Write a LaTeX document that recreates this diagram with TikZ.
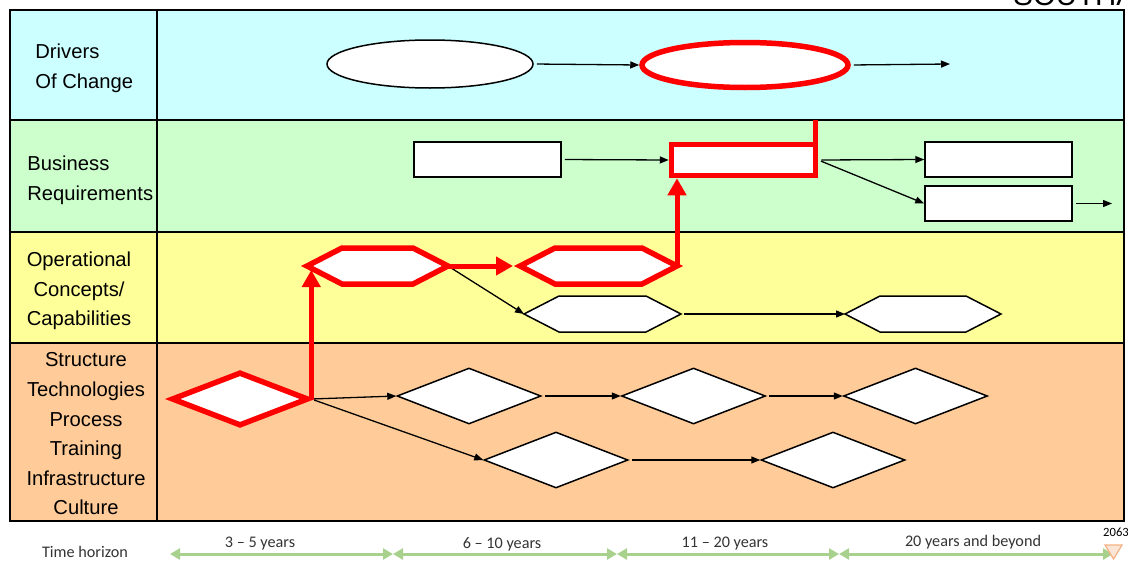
\documentclass[tikz,border=0pt]{standalone}
\usepackage{fontspec}
\setmainfont{Liberation Sans}
\newfontfamily\axisfont{Carlito}
\usetikzlibrary{positioning, arrows.meta, shapes.geometric, calc}

\definecolor{laneDrivers}{HTML}{CCFFFF}
\definecolor{laneBusiness}{HTML}{CCFFCC}
\definecolor{laneOps}{HTML}{FFFF99}
\definecolor{laneDomains}{HTML}{FFCC99}
\definecolor{spanGreen}{HTML}{A9D18E}
\definecolor{markFill}{HTML}{FBE5D6}
\definecolor{markLine}{HTML}{F4B183}

\begin{document}
\begin{tikzpicture}[
    x=0.5pt, y=-0.5pt,
    >={Triangle[length=4.5pt, width=3.5pt]},
    lane/.style={font=\fontsize{10.1}{14.8}\selectfont, inner sep=0pt, align=center},
    axistext/.style={font=\axisfont\fontsize{8.1}{9.7}\selectfont, text=black!80, inner sep=0pt},
    outline/.style={draw, fill=white, line width=0.75pt, inner sep=0pt},
    critical/.style={draw=red, line width=2.75pt},
    driver/.style={outline, ellipse, minimum width=103pt, minimum height=24pt},
    reqbox/.style={outline, rectangle, minimum width=73.5pt, minimum height=17.5pt},
    capbox/.style={inner sep=0pt, outer sep=0pt, minimum height=18pt},
    enabler/.style={outline, diamond, minimum width=72pt, minimum height=28pt},
    link/.style={->, line width=0.65pt, shorten <=1.5pt},
    redlink/.style={-{Triangle[length=8.5pt, width=9pt]}, draw=red, line width=2.5pt},
    span/.style={{Triangle[length=5pt, width=5.5pt]}-{Triangle[length=5pt, width=5.5pt]},
                 draw=spanGreen, line width=1.5pt}
]
\useasboundingbox (0,0) rectangle (1128,562);
\clip (0,0) rectangle (1128,562);

%---------------- Swim lanes ----------------
\fill[laneDrivers]  (10,10)  rectangle (1124,120);
\fill[laneBusiness] (10,120) rectangle (1124,232);
\fill[laneOps]      (10,232) rectangle (1124,343);
\fill[laneDomains]  (10,343) rectangle (1124,521);
\draw[line width=1.1pt] (10,120) -- (1124,120) (10,232) -- (1124,232)
    (10,343) -- (1124,343) (157,10) -- (157,521);
\draw[line width=1.4pt] (10,10) rectangle (1124,521);
\coordinate (laneTop) at (157,120);

\node[anchor=base west, font=\fontsize{14.7}{16}\selectfont, inner sep=0pt]
    (lblCorner) at (1013,5) {SOUTHA};

\node[lane, anchor=west, align=left] (lblDrivers) at (35,68) {Drivers\\Of Change};
\node[lane, anchor=west, align=left] (lblBusiness) at (27,180) {Business\\Requirements};
\node[lane] (lblOps) at (79,291) {Operational\\Concepts/\\Capabilities};
\node[lane] (lblDomains) at (86,434)
    {Structure\\Technologies\\Process\\Training\\Infrastructure\\Culture};

%---------------- Drivers of change ----------------
\node[driver] (e1) at (430,64) {};
\node[driver, critical, minimum height=22.5pt] (e2) at (745,65) {};
\coordinate (drvOut) at (950,64);

%---------------- Business requirements ----------------
\node[reqbox] (r1) at (487.5,159.5) {};
\node[reqbox, critical, minimum width=72pt, minimum height=15.5pt] (r2) at (743.5,160) {};
\node[reqbox] (r3) at (998.5,159.5) {};
\node[reqbox, below=3.75pt of r3] (r4) {};
\coordinate (reqOut) at (1112,203.5);

%---------------- Operational concepts ----------------
\node[capbox, minimum width=70.5pt] (h1) at (377.5,266) {};
\node[capbox, minimum width=78.5pt] (h2) at (598.5,266) {};
\node[capbox, minimum width=78.5pt] (h3) at (602.5,314) {};
\node[capbox, minimum width=78pt, right=82pt of h3] (h4) {};
\foreach \hx/\hc/\hw in {h1/red/2.75pt, h2/red/2.75pt, h3/black/0.75pt, h4/black/0.75pt}
  \draw[draw=\hc, line width=\hw, fill=white] (\hx.west)
    -- ([xshift=17.5pt]\hx.north west) -- ([xshift=-17.5pt]\hx.north east)
    -- (\hx.east)
    -- ([xshift=-17.5pt]\hx.south east) -- ([xshift=17.5pt]\hx.south west) -- cycle;

%---------------- Structure / technologies ----------------
\node[enabler, critical, minimum width=68.5pt, minimum height=27pt] (d1) at (240,399) {};
\node[enabler] (d2) at (469,396) {};
\node[enabler, right=39.5pt of d2] (d3) {};
\node[enabler, right=38.25pt of d3] (d4) {};
\node[enabler] (d5) at (556,460) {};
\node[enabler, right=65.75pt of d5] (d6) {};

%---------------- Links ----------------
\draw[link] (e1.east) -- (e2.west);
\draw[link] (e2.east) -- (drvOut);
\draw[link] (r1.east) -- (r2.west);
\draw[link] (r2.east) -- (r3.west);
\draw[link] (r2.east) -- (r4.west);
\draw[link] (r4.east) -- (reqOut);
\draw[link] (h1.east) -- (h3.west);
\draw[link] (h3.east) -- (h4.west);
\draw[link] (d1.east) -- (d2.west);
\draw[link] (d1.east) -- (d5.west);
\draw[link] (d2.east) -- (d3.west);
\draw[link] (d3.east) -- (d4.west);
\draw[link] (d5.east) -- (d6.west);

% highlighted path up through the lanes
\draw[redlink] (d1.east) -- ($(d1.east |- h1.west)+(0,4)$);
\draw[redlink, shorten >=3.5pt] (h1.east) -- (h2.west);
\draw[redlink] (h2.east) -- (h2.east |- r2.south);
\draw[critical] ([xshift=-1.375pt, yshift=-2.75pt]r2.north east)
    -- ([xshift=-1.375pt]r2.north east |- laneTop);

%---------------- Time horizon ----------------
\node[axistext] (lblHorizon) at (85,551.5) {Time horizon};
\coordinate (t0) at (170,554);
\coordinate (t1) at (393,554);
\coordinate (t2) at (617,554);
\coordinate (t3) at (839,554);
\coordinate (t4) at (1113,554);
\draw[span] (t0) -- (t1);
\draw[span] (t1) -- (t2);
\draw[span] (t2) -- (t3);
\draw[span] (t3) -- (t4);
\node[axistext] (lblSpan1) at (260,544) {3 – 5 years};
\node[axistext] (lblSpan2) at (502,544) {6 – 10 years};
\node[axistext] (lblSpan3) at (725,544) {11 – 20 years};
\node[axistext] (lblSpan4) at (973,542) {20 years and beyond};
\filldraw[fill=markFill, draw=markLine, line width=0.6pt]
    (1105,545) -- (1122,545) -- (1113.5,559) -- cycle;
\node[axistext, font=\axisfont\fontsize{6.3}{7}\selectfont, text=black]
    (lblYear) at (1116,532) {2063};

\end{tikzpicture}
\end{document}
